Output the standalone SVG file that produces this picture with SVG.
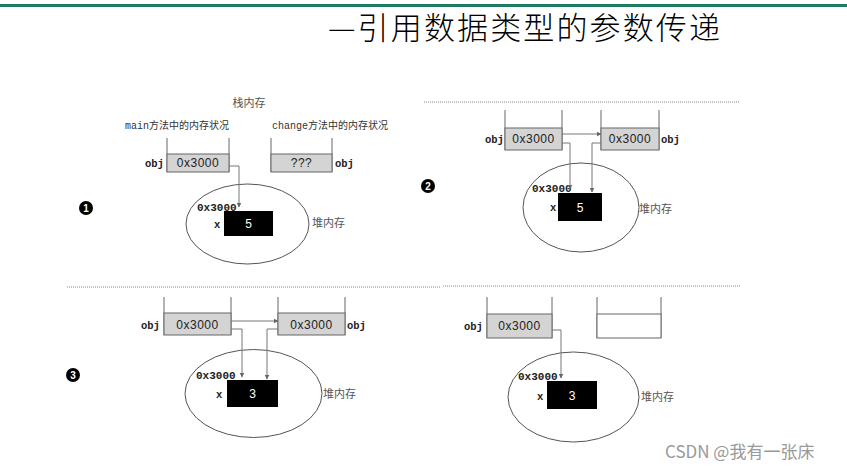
<svg xmlns="http://www.w3.org/2000/svg" width="847" height="469" viewBox="0 0 847 469">
<style>
.wall{fill:none;stroke:#666;stroke-width:1}
.slot{fill:#d4d4d4;stroke:#666;stroke-width:1}
.empty{fill:#fff;stroke:#666;stroke-width:1}
.val{font-family:"Liberation Sans","DejaVu Sans",sans-serif;font-size:12px;fill:#222;text-anchor:middle;letter-spacing:0.5px}
.obj{font-family:"Liberation Mono","DejaVu Sans Mono",monospace;font-size:10.5px;font-weight:bold;fill:#222}
.addr{font-family:"Liberation Mono","DejaVu Sans Mono",monospace;font-size:11px;font-weight:bold;fill:#222}
.heap{fill:none;stroke:#555;stroke-width:1}
.cell{fill:#000}
.num{font-family:"Liberation Sans",sans-serif;font-size:12px;fill:#fff;text-anchor:middle}
.cjk{font-family:"Noto Sans CJK SC",sans-serif;font-size:11px;fill:#555}
.cap{font-family:"Liberation Mono","Noto Sans CJK SC",monospace;font-size:10px;fill:#333}
.conn{fill:none;stroke:#777;stroke-width:1}
.dots{stroke:#888;stroke-width:1;stroke-dasharray:1 1}
.badge{fill:#000}
.bnum{font-family:"Liberation Sans",sans-serif;font-size:10px;font-weight:bold;fill:#fff;text-anchor:middle}
</style>
<defs>
<marker id="ah" markerWidth="5" markerHeight="5" refX="4.5" refY="2.5" orient="auto" markerUnits="userSpaceOnUse"><path d="M0,0 L5,2.5 L0,5 z" fill="#666"/></marker>
</defs>
<rect x="0" y="0" width="847" height="469" fill="#fff"/>
<rect x="0" y="4" width="847" height="3" fill="#1e7b63"/>
<g id="title"><text x="328" y="39" font-family="'Noto Sans CJK SC',sans-serif" font-weight="300" font-size="31" fill="#000" textLength="392" lengthAdjust="spacing">—引用数据类型的参数传递</text></g>

<!-- dividers -->
<line class="dots" x1="424" y1="102" x2="739" y2="102"/>
<line class="dots" x1="67" y1="287" x2="440" y2="287"/>
<line class="dots" x1="443" y1="286" x2="740" y2="286"/>

<!-- Quadrant 1 -->
<g id="q1-badge"><circle class="badge" cx="86" cy="208" r="7"/><text class="bnum" x="86" y="211.5">1</text></g>
<g id="q1-captions">
<text class="cjk" x="249" y="107" text-anchor="middle" font-size="11.5">栈内存</text>
<text class="cap" x="125" y="129">main方法中的内存状况</text>
<text class="cap" x="272" y="129">change方法中的内存状况</text>
</g>
<g id="q1-main-stack">
<path class="wall" d="M167,138 V172 M229,138 V172"/>
<rect class="slot" x="167" y="154" width="62" height="18"/>
<text class="val" x="198" y="167">0x3000</text>
<text class="obj" x="145" y="167">obj</text>
</g>
<g id="q1-change-stack">
<path class="wall" d="M271,138 V172 M332,138 V172"/>
<rect class="slot" x="271" y="154" width="61" height="18"/>
<text class="val" x="301.5" y="167">???</text>
<text class="obj" x="335" y="167">obj</text>
</g>
<g id="q1-heap">
<ellipse class="heap" cx="247.5" cy="224" rx="61.5" ry="40"/>
<text class="addr" x="197" y="211">0x3000</text>
<text class="obj" x="214" y="228">x</text>
<rect class="cell" x="224" y="211" width="49" height="25"/>
<text class="num" x="248.5" y="228">5</text>
<text class="cjk" x="312" y="227">堆内存</text>
</g>

<!-- Quadrant 2 -->
<g id="q2-badge"><circle class="badge" cx="428" cy="186" r="7"/><text class="bnum" x="428" y="189.5">2</text></g>
<g id="q2-main-stack">
<path class="wall" d="M505,110 V150 M562,110 V150"/>
<rect class="slot" x="505" y="128" width="57" height="22"/>
<text class="val" x="533.5" y="143">0x3000</text>
<text class="obj" x="485" y="143">obj</text>
</g>
<g id="q2-change-stack">
<path class="wall" d="M601,110 V150 M659,110 V150"/>
<rect class="slot" x="601" y="128" width="58" height="22"/>
<text class="val" x="630" y="143">0x3000</text>
<text class="obj" x="661" y="143">obj</text>
</g>
<g id="q2-heap">
<ellipse class="heap" cx="581" cy="207.5" rx="58" ry="44.5"/>
<text class="addr" x="532" y="192">0x3000</text>
<text class="obj" x="550" y="211" font-weight="normal">x</text>
<rect class="cell" x="558" y="193" width="44" height="28"/>
<text class="num" x="580" y="211.5">5</text>
<text class="cjk" x="639" y="213">堆内存</text>
</g>

<!-- Quadrant 3 -->
<g id="q3-badge"><circle class="badge" cx="73" cy="375" r="7"/><text class="bnum" x="73" y="378.5">3</text></g>
<g id="q3-main-stack">
<path class="wall" d="M164,297 V335 M231,297 V335"/>
<rect class="slot" x="164" y="313" width="67" height="22"/>
<text class="val" x="197.5" y="329">0x3000</text>
<text class="obj" x="141" y="329">obj</text>
</g>
<g id="q3-change-stack">
<path class="wall" d="M278,297 V335 M345,297 V335"/>
<rect class="slot" x="278" y="313" width="67" height="22"/>
<text class="val" x="311.5" y="329">0x3000</text>
<text class="obj" x="347" y="329">obj</text>
</g>
<g id="q3-heap">
<ellipse class="heap" cx="253.5" cy="393.5" rx="68.5" ry="44"/>
<text class="addr" x="196" y="379">0x3000</text>
<text class="obj" x="216" y="398">x</text>
<rect class="cell" x="227" y="380" width="51" height="27"/>
<text class="num" x="252.5" y="398">3</text>
<text class="cjk" x="323" y="398" font-size="12">堆内存</text>
</g>

<!-- Quadrant 4 -->
<g id="q4-main-stack">
<path class="wall" d="M487,297 V338 M552,297 V338"/>
<rect class="slot" x="487" y="314" width="65" height="24"/>
<text class="val" x="519.5" y="330">0x3000</text>
<text class="obj" x="464" y="330">obj</text>
</g>
<g id="q4-change-stack">
<path class="wall" d="M597,297 V338 M661,297 V338"/>
<rect class="empty" x="597" y="314" width="64" height="24"/>
</g>
<g id="q4-heap">
<ellipse class="heap" cx="573.5" cy="397" rx="65.5" ry="45"/>
<text class="addr" x="518" y="380">0x3000</text>
<text class="obj" x="537" y="400">x</text>
<rect class="cell" x="547" y="381" width="50" height="28"/>
<text class="num" x="572" y="400">3</text>
<text class="cjk" x="641" y="401" font-size="12">堆内存</text>
</g>

<g id="connectors">
<path class="conn" d="M229,166 H239 V207" marker-end="url(#ah)"/>
<path class="conn" d="M562,134 H601" marker-end="url(#ah)"/>
<path class="conn" d="M562,143 H570 V189" marker-end="url(#ah)"/>
<path class="conn" d="M601,143 H592 V192" marker-end="url(#ah)"/>
<path class="conn" d="M231,321 H278" marker-end="url(#ah)"/>
<path class="conn" d="M231,329 H242 V377" marker-end="url(#ah)"/>
<path class="conn" d="M278,329 H267 V379" marker-end="url(#ah)"/>
<path class="conn" d="M552,330 H561 V378" marker-end="url(#ah)"/>
</g>

<g id="watermark"><text x="665" y="458" font-family="'Noto Sans CJK SC',sans-serif" font-size="17" fill="#999">CSDN @我有一张床</text></g>
</svg>
